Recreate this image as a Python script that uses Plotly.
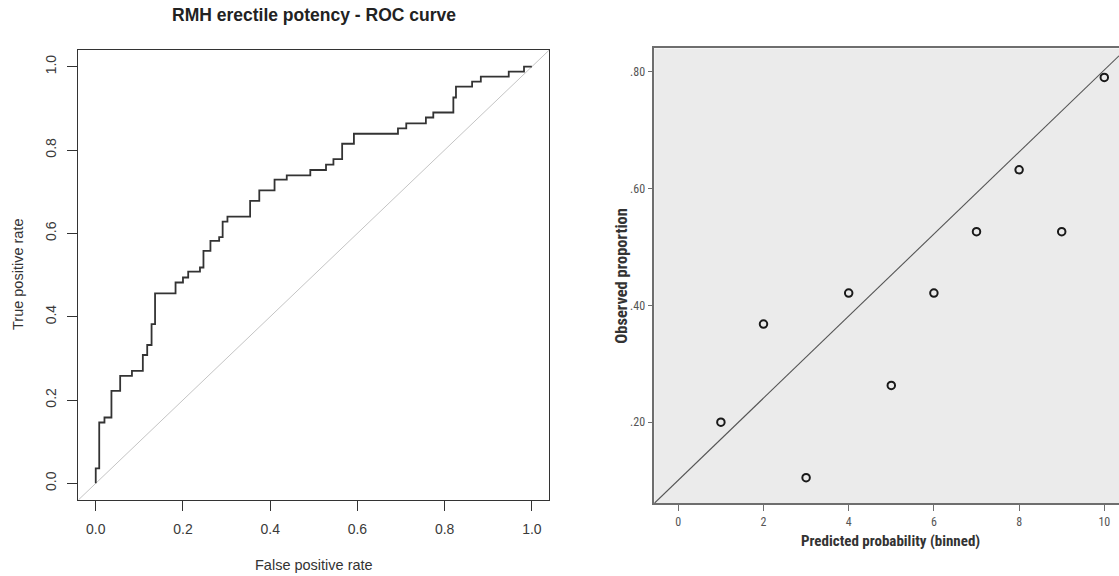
import plotly.graph_objects as go

# ---------------- data ----------------
# ROC curve step vertices (false positive rate, true positive rate)
roc_fpr = [0.0, 0.0, 0.008, 0.020, 0.036, 0.056, 0.083, 0.108, 0.118, 0.128, 0.136,
           0.183, 0.200, 0.212, 0.239, 0.247, 0.263, 0.283, 0.291, 0.302, 0.354,
           0.375, 0.410, 0.438, 0.492, 0.528, 0.545, 0.565, 0.592, 0.693, 0.712,
           0.757, 0.774, 0.820, 0.826, 0.863, 0.883, 0.947, 0.982, 1.0]
roc_tpr = [0.0, 0.036, 0.146, 0.158, 0.222, 0.258, 0.270, 0.308, 0.332, 0.382, 0.456,
           0.482, 0.494, 0.508, 0.518, 0.558, 0.582, 0.591, 0.628, 0.640, 0.678,
           0.703, 0.729, 0.739, 0.752, 0.765, 0.778, 0.815, 0.839, 0.852, 0.864,
           0.878, 0.890, 0.926, 0.952, 0.964, 0.976, 0.988, 1.0, 1.0]

roc_ticks = [0.0, 0.2, 0.4, 0.6, 0.8, 1.0]
roc_ticktext = ["0.0", "0.2", "0.4", "0.6", "0.8", "1.0"]

# Calibration plot
bins = [1, 2, 3, 4, 5, 6, 7, 8, 9, 10]
observed = [0.200, 0.368, 0.105, 0.421, 0.263, 0.421, 0.526, 0.632, 0.526, 0.790]
ref_intercept = 0.1008
ref_slope = 0.0702
cal_xticks = [0, 2, 4, 6, 8, 10]
cal_xticktext = ["0", "2", "4", "6", "8", "10"]
cal_yticks = [0.2, 0.4, 0.6, 0.8]
cal_yticktext = [".20", ".40", ".60", ".80"]

title_left = "RMH erectile potency - ROC curve"
xlab_left = "False positive rate"
ylab_left = "True positive rate"
xlab_right = "Predicted probability (binned)"
ylab_right = "Observed proportion"

# ---------------- layout constants ----------------
W, H = 1119, 576
roc_range = [-0.04, 1.04]
cal_xrange = [-0.563, 10.345]
cal_yrange = [0.0612, 0.8397]

def px(x):
    return x / W

def py(y):
    return 1 - y / H

R_FONT = "Liberation Sans, Arial, Helvetica, sans-serif"
S_FONT = "Liberation Sans Narrow, Arial Narrow, Roboto Condensed, Roboto, sans-serif"

fig = go.Figure()

# diagonal reference (left)
fig.add_trace(go.Scatter(x=roc_range, y=roc_range, mode="lines",
                         line=dict(color="#c4c4c4", width=1),
                         xaxis="x", yaxis="y", showlegend=False, hoverinfo="skip"))
# ROC curve
fig.add_trace(go.Scatter(x=roc_fpr, y=roc_tpr, mode="lines",
                         line=dict(color="#333333", width=1.8, shape="hv"),
                         xaxis="x", yaxis="y", showlegend=False))

# calibration reference line
ref_x = cal_xrange
ref_y = [ref_intercept + ref_slope * v for v in ref_x]
fig.add_trace(go.Scatter(x=ref_x, y=ref_y, mode="lines",
                         line=dict(color="#555555", width=1.1),
                         xaxis="x2", yaxis="y2", showlegend=False, hoverinfo="skip"))
# calibration points
fig.add_trace(go.Scatter(x=bins, y=observed, mode="markers",
                         marker=dict(symbol="circle-open", size=7.5,
                                     color="#1a1a1a", line=dict(width=2, color="#1a1a1a")),
                         xaxis="x2", yaxis="y2", showlegend=False))

common_left = dict(showgrid=False, zeroline=False, showline=True, mirror=True,
                   linecolor="#333333", linewidth=1.3, ticks="outside", ticklen=10,
                   tickwidth=1.2, tickcolor="#333333",
                   tickfont=dict(family=R_FONT, size=14, color="#3a3a3a"))

fig.update_layout(
    width=W, height=H,
    margin=dict(l=0, r=0, t=0, b=0),
    paper_bgcolor="white", plot_bgcolor="rgba(0,0,0,0)",
    xaxis=dict(domain=[px(78.3), px(549.3)], range=roc_range, anchor="y",
               tickvals=roc_ticks, ticktext=roc_ticktext, ticklabelstandoff=6,
               **common_left),
    yaxis=dict(domain=[py(500), py(50)], range=roc_range, anchor="x",
               tickvals=roc_ticks, ticktext=roc_ticktext, tickangle=-90,
               ticklabelstandoff=6, **common_left),
    xaxis2=dict(domain=[px(654.3), 1.0], range=cal_xrange, anchor="y2",
                showgrid=False, zeroline=False, showline=True, mirror=True,
                linecolor="#6e6e6e", linewidth=1.6, ticks="outside", ticklen=6,
                tickwidth=1.3, tickcolor="#6e6e6e",
                tickvals=cal_xticks, ticktext=cal_xticktext,
                tickfont=dict(family=S_FONT, size=12, color="#555555")),
    yaxis2=dict(domain=[py(503.3), py(48.4)], range=cal_yrange, anchor="x2",
                showgrid=False, zeroline=False, showline=True, mirror=False,
                linecolor="#6e6e6e", linewidth=1.6, ticks="outside", ticklen=5,
                tickwidth=1.3, tickcolor="#6e6e6e",
                tickvals=cal_yticks, ticktext=cal_yticktext,
                tickfont=dict(family=S_FONT, size=12, color="#555555")),
    shapes=[dict(type="rect", xref="x2 domain", yref="y2 domain",
                 x0=0, x1=1, y0=0, y1=1, fillcolor="#ebebeb",
                 line=dict(width=0), layer="below")],
    annotations=[
        dict(text="<b>" + title_left + "</b>", x=px(313.8), y=py(15), xref="paper", yref="paper",
             showarrow=False, xanchor="center", yanchor="middle",
             font=dict(family=R_FONT, size=17.5, color="#222222")),
        dict(text=xlab_left, x=px(313.5), y=py(565), xref="paper", yref="paper",
             showarrow=False, xanchor="center", yanchor="middle",
             font=dict(family=R_FONT, size=14.5, color="#333333")),
        dict(text=ylab_left, x=px(18), y=py(275), xref="paper", yref="paper",
             showarrow=False, xanchor="center", yanchor="middle", textangle=-90,
             font=dict(family=R_FONT, size=14.5, color="#333333")),
        dict(text="<b>" + xlab_right + "</b>", x=px(890.8), y=py(541), xref="paper", yref="paper",
             showarrow=False, xanchor="center", yanchor="middle",
             font=dict(family=S_FONT, size=15, color="#333333")),
        dict(text="<b>" + ylab_right + "</b>", x=px(620.7), y=py(276), xref="paper", yref="paper",
             showarrow=False, xanchor="center", yanchor="middle", textangle=-90,
             font=dict(family=S_FONT, size=16.5, color="#333333")),
    ],
)

fig.write_html("out.html",
               config={"displayModeBar": False},
               post_script="document.body.style.margin='0';document.body.style.padding='0';"
                           "document.documentElement.style.overflow='hidden';")
